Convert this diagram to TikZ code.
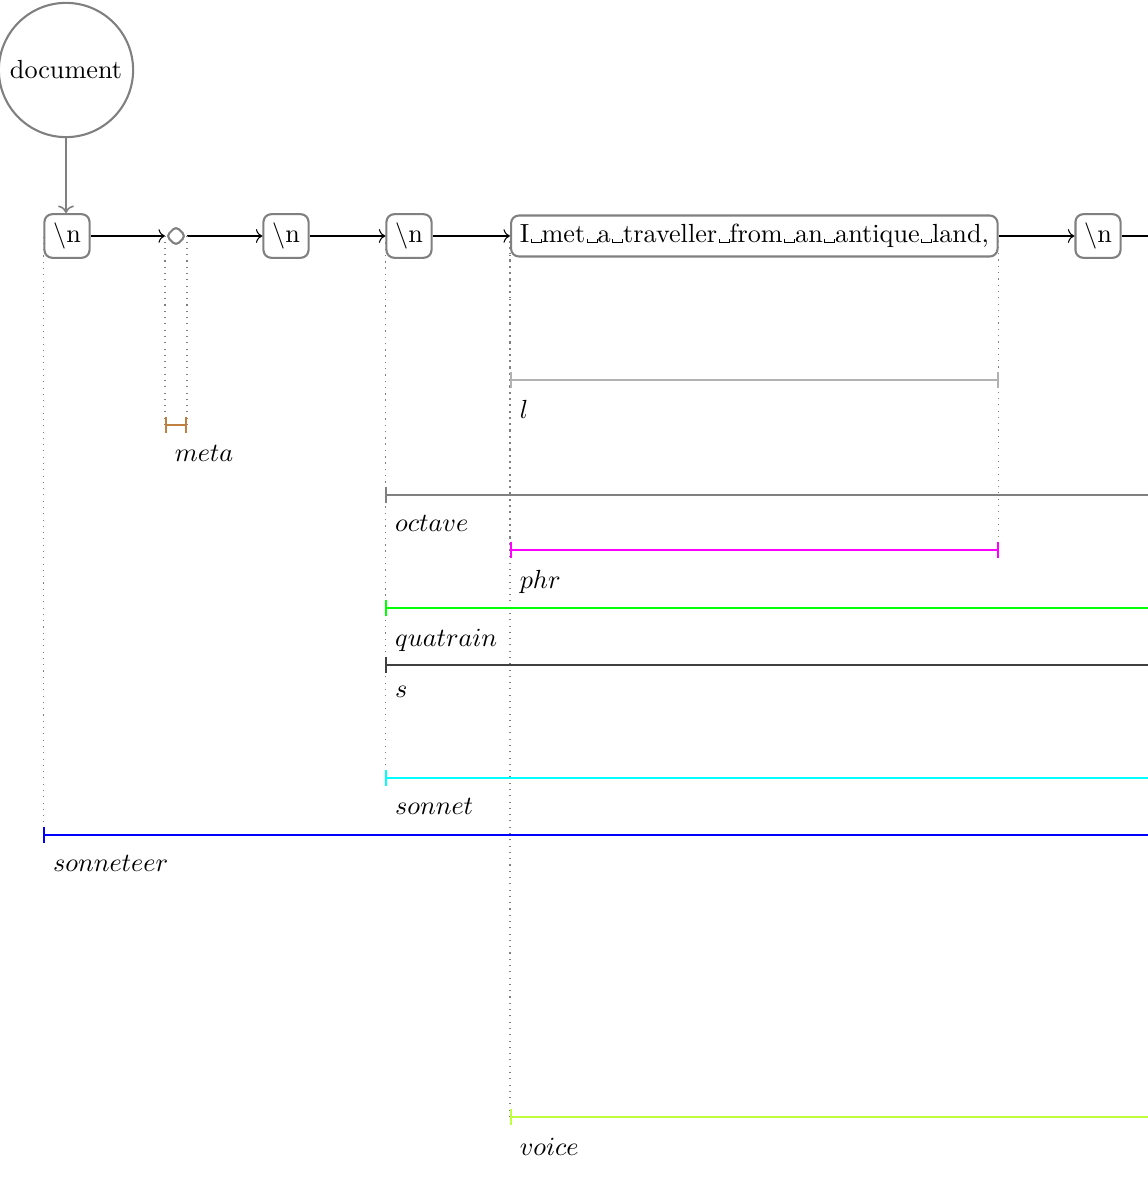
\documentclass[tikz,border=0pt]{standalone}
\usetikzlibrary{arrows.meta,shapes.geometric}
\newcommand\vsp{\mbox{\kern.06em\vrule height.3ex}\vbox{\hrule width.333em}\hbox{\vrule height.3ex}}
\definecolor{mymagenta}{rgb}{1,0,1}
\definecolor{mycyan}{rgb}{0,1,1}
\definecolor{mygreen}{rgb}{0,1,0}
\definecolor{mylime}{rgb}{0.75,1,0.25}
\begin{document}
\begin{tikzpicture}[x=0.3817pt,y=-0.3817pt,
  box/.style={draw=gray,thick,rounded corners=3pt,inner sep=3.33pt},
  docnode/.style={circle,draw=gray,thick,inner sep=3.33pt},
  dia/.style={diamond,draw=gray,thick,rounded corners=1.5pt,minimum width=7.6pt,minimum height=7.6pt,inner sep=0pt},
  flow/.style={->,black},
  guide/.style={gray,dotted,thin},
  span/.style={thick},
  both/.style={{Bar[width=6pt]}-{Bar[width=6pt]}},
  open/.style={{Bar[width=6pt]}-},
  lab/.style={anchor=north west,inner sep=3.33pt,yshift=-4.2pt}]
\useasboundingbox (0,0) rectangle (1148,1178);
\clip (0,0) rectangle (1148,1178);
% nodes
\node[docnode] (doc) at (66,70) {document};
\node[box] (n1) at (67,236) {\textbackslash n};
\node[dia] (d1) at (176,236) {};
\node[box] (n2) at (286,236) {\textbackslash n};
\node[box] (n3) at (409,236) {\textbackslash n};
\node[box,anchor=west] (t1) at (510,236) {I\vsp met\vsp a\vsp traveller\vsp from\vsp an\vsp antique\vsp land,};
\node[box] (n4) at (1098,236) {\textbackslash n};
\coordinate (out) at (1170,236);
% connectors
\draw[->,gray,semithick] (doc.south) -- (doc.south |- n1.north);
\draw[flow] (n1) -- (d1);
\draw[flow] (d1) -- (n2);
\draw[flow] (n2) -- (n3);
\draw[flow] (n3) -- (t1);
\draw[flow] (t1) -- (n4);
\draw[flow] (n4) -- (out);
% span levels
\coordinate (Yl) at (0,380);
\coordinate (Ymeta) at (0,425);
\coordinate (Yoct) at (0,495);
\coordinate (Yphr) at (0,550);
\coordinate (Yqua) at (0,608);
\coordinate (Ys) at (0,665);
\coordinate (Ysonnet) at (0,778);
\coordinate (Ysonneteer) at (0,835);
\coordinate (Yvoice) at (0,1117);
\coordinate (R) at (1170,0);
% guides
\draw[guide] (n1.west |- Ysonneteer) -- (n1.west);
\draw[guide] (d1.west |- Ymeta) -- (d1.west);
\draw[guide] (d1.east |- Ymeta) -- (d1.east);
\draw[guide] (n3.west |- Yoct) -- (n3.west);
\draw[guide] (n3.west |- Yqua) -- (n3.west);
\draw[guide] (n3.west |- Ys) -- (n3.west);
\draw[guide] (n3.west |- Ysonnet) -- (n3.west);
\draw[guide] (t1.west |- Yl) -- (t1.west);
\draw[guide] (t1.west |- Yphr) -- (t1.west);
\draw[guide] (t1.west |- Yvoice) -- (t1.west);
\draw[guide] (t1.east |- Yl) -- (t1.east);
\draw[guide] (t1.east |- Yphr) -- (t1.east);
% spans
\draw[span,both,black!30] (t1.west |- Yl) node[lab,black] (Ll) {$l$} -- (t1.east |- Yl);
\draw[span,both,brown] (d1.west |- Ymeta) node[lab,black] (Lmeta) {$meta$} -- (d1.east |- Ymeta);
\draw[span,open,gray] (n3.west |- Yoct) node[lab,black] (Loct) {$octave$} -- (R |- Yoct);
\draw[span,both,mymagenta] (t1.west |- Yphr) node[lab,black] (Lphr) {$phr$} -- (t1.east |- Yphr);
\draw[span,open,mygreen] (n3.west |- Yqua) node[lab,black] (Lqua) {$quatrain$} -- (R |- Yqua);
\draw[span,open,darkgray] (n3.west |- Ys) node[lab,black] (Ls) {$s$} -- (R |- Ys);
\draw[span,open,mycyan] (n3.west |- Ysonnet) node[lab,black] (Lsonnet) {$sonnet$} -- (R |- Ysonnet);
\draw[span,open,blue] (n1.west |- Ysonneteer) node[lab,black] (Lsonneteer) {$sonneteer$} -- (R |- Ysonneteer);
\draw[span,open,mylime] (t1.west |- Yvoice) node[lab,black] (Lvoice) {$voice$} -- (R |- Yvoice);
\end{tikzpicture}
\end{document}
